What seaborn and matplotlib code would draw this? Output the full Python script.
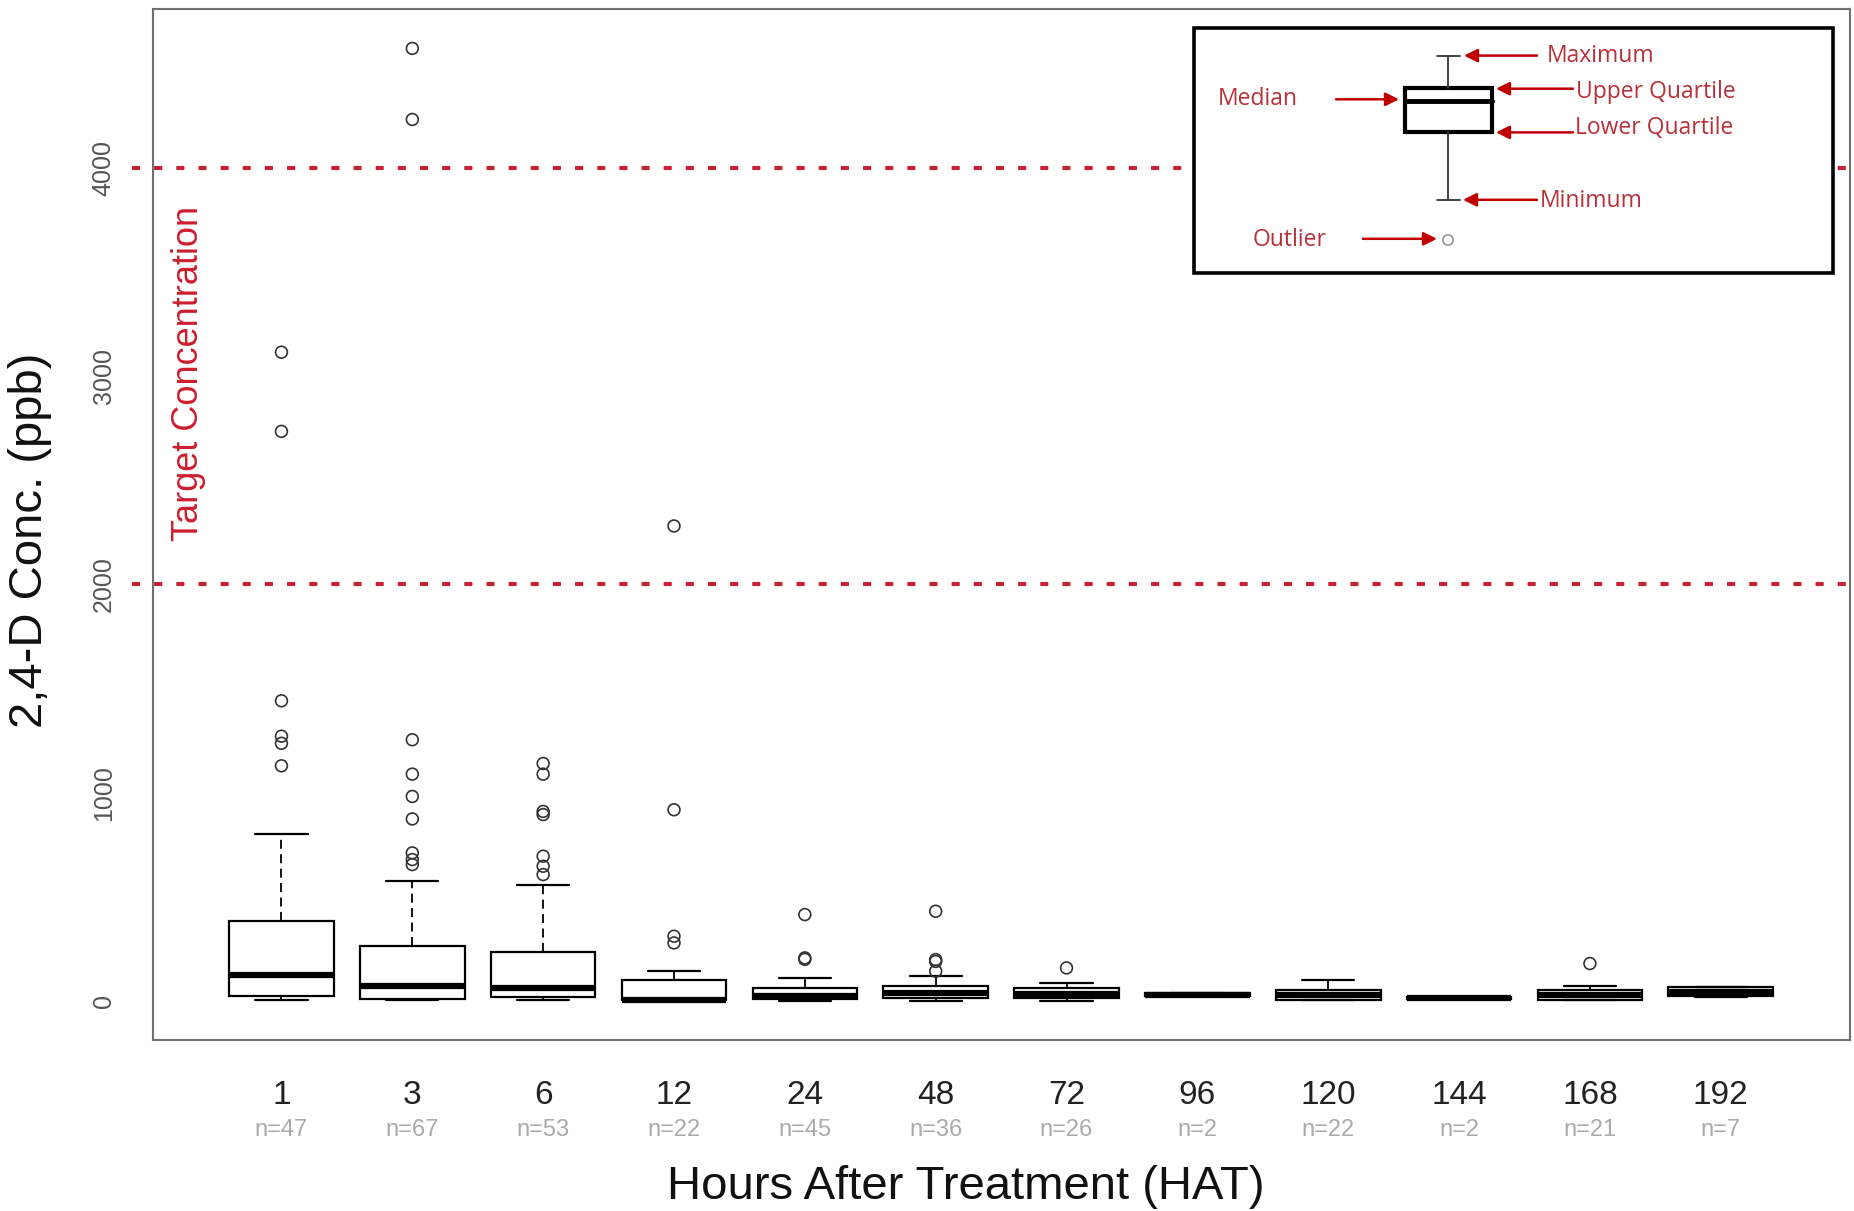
import matplotlib

matplotlib.use("Agg")
import matplotlib.pyplot as plt
import matplotlib.transforms as mtransforms
import numpy as np
import pandas as pd
import seaborn as sns
from matplotlib.patches import FancyArrowPatch, Rectangle

# --- data (ppb) ---
hat_labels = ["1", "3", "6", "12", "24", "48", "72", "96", "120", "144", "168", "192"]
n_obs = [47, 67, 53, 22, 45, 36, 26, 2, 22, 2, 21, 7]
whisk_lo = [4, 4, 4, 0, 2, 0, 0, 22, 5, 8, 3, 20]
quart_lo = [26, 10, 20, 4, 8, 15, 15, 22, 7, 8, 7, 23]
medians = [127, 74, 63, 5, 25, 40, 35, 30, 30, 14, 30, 45]
quart_hi = [383, 263, 236, 100, 63, 71, 63, 38, 54, 20, 54, 68]
whisk_hi = [803, 578, 559, 143, 111, 119, 87, 38, 103, 20, 71, 68]
outliers = [
    [1129, 1237, 1271, 1441, 2734, 3114],
    [655, 679, 711, 874, 982, 1089, 1254, 4231, 4572],
    [607, 647, 695, 895, 910, 1089, 1140],
    [279, 311, 918, 2280],
    [200, 207, 415],
    [143, 190, 199, 431],
    [159],
    [],
    [],
    [],
    [180],
    [],
]
target_range = [2000, 4000]
y_ticks = [0, 1000, 2000, 3000, 4000]

RED = "#cc1f2f"
ANNO_RED = "#b8303a"

# five-number summaries -> long table (percentiles of 5 points give back q1/med/q3)
box_df = pd.DataFrame({
    "hat": np.repeat(hat_labels, 5),
    "conc": np.column_stack([whisk_lo, quart_lo, medians, quart_hi, whisk_hi]).ravel(),
})
out_df = pd.DataFrame({
    "hat": [h for h, vals in zip(hat_labels, outliers) for _ in vals],
    "conc": [v for vals in outliers for v in vals],
})

sns.set_style("white")
plt.rcParams["font.family"] = ["Liberation Sans", "DejaVu Sans"]

fig = plt.figure(figsize=(18.54, 12.11), dpi=100)
ax = fig.add_axes([0.0823, 0.1412, 0.9157, 0.8510])

sns.boxplot(
    data=box_df, x="hat", y="conc", order=hat_labels, ax=ax,
    color="white", linecolor="black", linewidth=1.6, width=0.8, saturation=1,
    whis=(0, 100), showfliers=False,
    medianprops=dict(linewidth=4.5, color="black"),
    whiskerprops=dict(linestyle=(0, (5, 3)), linewidth=1.3),
    capprops=dict(linewidth=1.6),
)
n_before = len(ax.collections)
sns.stripplot(data=out_df, x="hat", y="conc", order=hat_labels, ax=ax,
              jitter=False, size=8.5, color="black", zorder=4)
for coll in ax.collections[n_before:]:
    coll.set_facecolor("none")
    coll.set_edgecolor("#333333")
    coll.set_linewidth(1.2)

for yv in target_range:
    ax.axhline(yv, xmin=-0.012, xmax=1, color=RED, lw=2.9,
               linestyle=(0, (2, 3.5)), clip_on=False, zorder=1)
ax.text(-0.714, 3010, "Target Concentration", rotation=90, ha="center",
        va="center", color=RED, fontsize=26)

ax.set_xlim(-0.985, 11.99)
ax.set_ylim(-187, 4759)
ax.set_yticks(y_ticks)
ax.set_yticklabels([str(v) for v in y_ticks], rotation=90, va="center")
ax.tick_params(axis="y", length=13.5, width=1.2, color="#444444",
               labelsize=18, labelcolor="#555555", pad=13)
ax.tick_params(axis="x", length=15, width=1.2, color="#444444",
               labelsize=24, labelcolor="#222222", pad=14)
for sp in ax.spines.values():
    sp.set_visible(True)
    sp.set_color("#707070")
    sp.set_linewidth(1.5)

ax.set_xlabel("Hours After Treatment (HAT)", fontsize=34, color="#111111")
ax.xaxis.set_label_coords(0.479, -0.121)
ax.set_ylabel("2,4-D Conc. (ppb)", fontsize=34, color="#111111")
ax.yaxis.set_label_coords(-0.059, 0.485)

# sample sizes under the tick labels
trans = mtransforms.blended_transform_factory(ax.transData, fig.transFigure)
for i, n in enumerate(n_obs):
    ax.text(i, 0.0665, f"n={n}", transform=trans, ha="center", va="center",
            fontsize=17, color="#aaaaaa")

# --- explanatory inset (pixel coordinates of the full image) ---
ov = fig.add_axes([0, 0, 1, 1], zorder=5)
ov.set_xlim(0, 1854)
ov.set_ylim(1211, 0)
ov.axis("off")
ov.patch.set_alpha(0)

ov.add_patch(Rectangle((1194, 28), 639, 245, fill=True, facecolor="white",
                       edgecolor="black", lw=2.6))
ov.plot([1448, 1448], [55.6, 87.5], color="#333333", lw=1.3)
ov.plot([1448, 1448], [132.4, 199.8], color="#333333", lw=1.3)
ov.plot([1437, 1460], [55.6, 55.6], color="#333333", lw=1.3)
ov.plot([1437, 1460], [199.8, 199.8], color="#333333", lw=1.3)
ov.add_patch(Rectangle((1405, 87.5), 87, 44.9, fill=True, facecolor="white",
                       edgecolor="black", lw=3))
ov.plot([1405, 1492], [100.5, 100.5], color="black", lw=3.5)
ov.scatter([1448], [240], s=55, facecolor="none", edgecolor="#999999", lw=1.2)

font_anno = dict(family=["Open Sans", "DejaVu Sans"], fontsize=16.5, color=ANNO_RED,
                 va="center", ha="left")
annotations = [
    ("Maximum", (1537, 55.6), (1464, 55.6), (1547, 55.6)),
    ("Upper Quartile", (1573, 88.7), (1496, 88.7), (1576, 92)),
    ("Lower Quartile", (1573, 132.4), (1496, 132.4), (1575, 127.7)),
    ("Minimum", (1537, 199.8), (1463, 199.8), (1540, 201)),
    ("Median", (1336, 99.3), (1399, 99.3), (1218, 99.3)),
    ("Outlier", (1363, 238.8), (1437, 238.8), (1253, 240)),
]
for label, tail, head, txt in annotations:
    ov.add_patch(FancyArrowPatch(tail, head, arrowstyle="-|>,head_length=8,head_width=4",
                                 color="#c00000", lw=1.8, shrinkA=0, shrinkB=0))
    ov.text(txt[0], txt[1], label, **font_anno)

fig.savefig("out.png", dpi=100)
